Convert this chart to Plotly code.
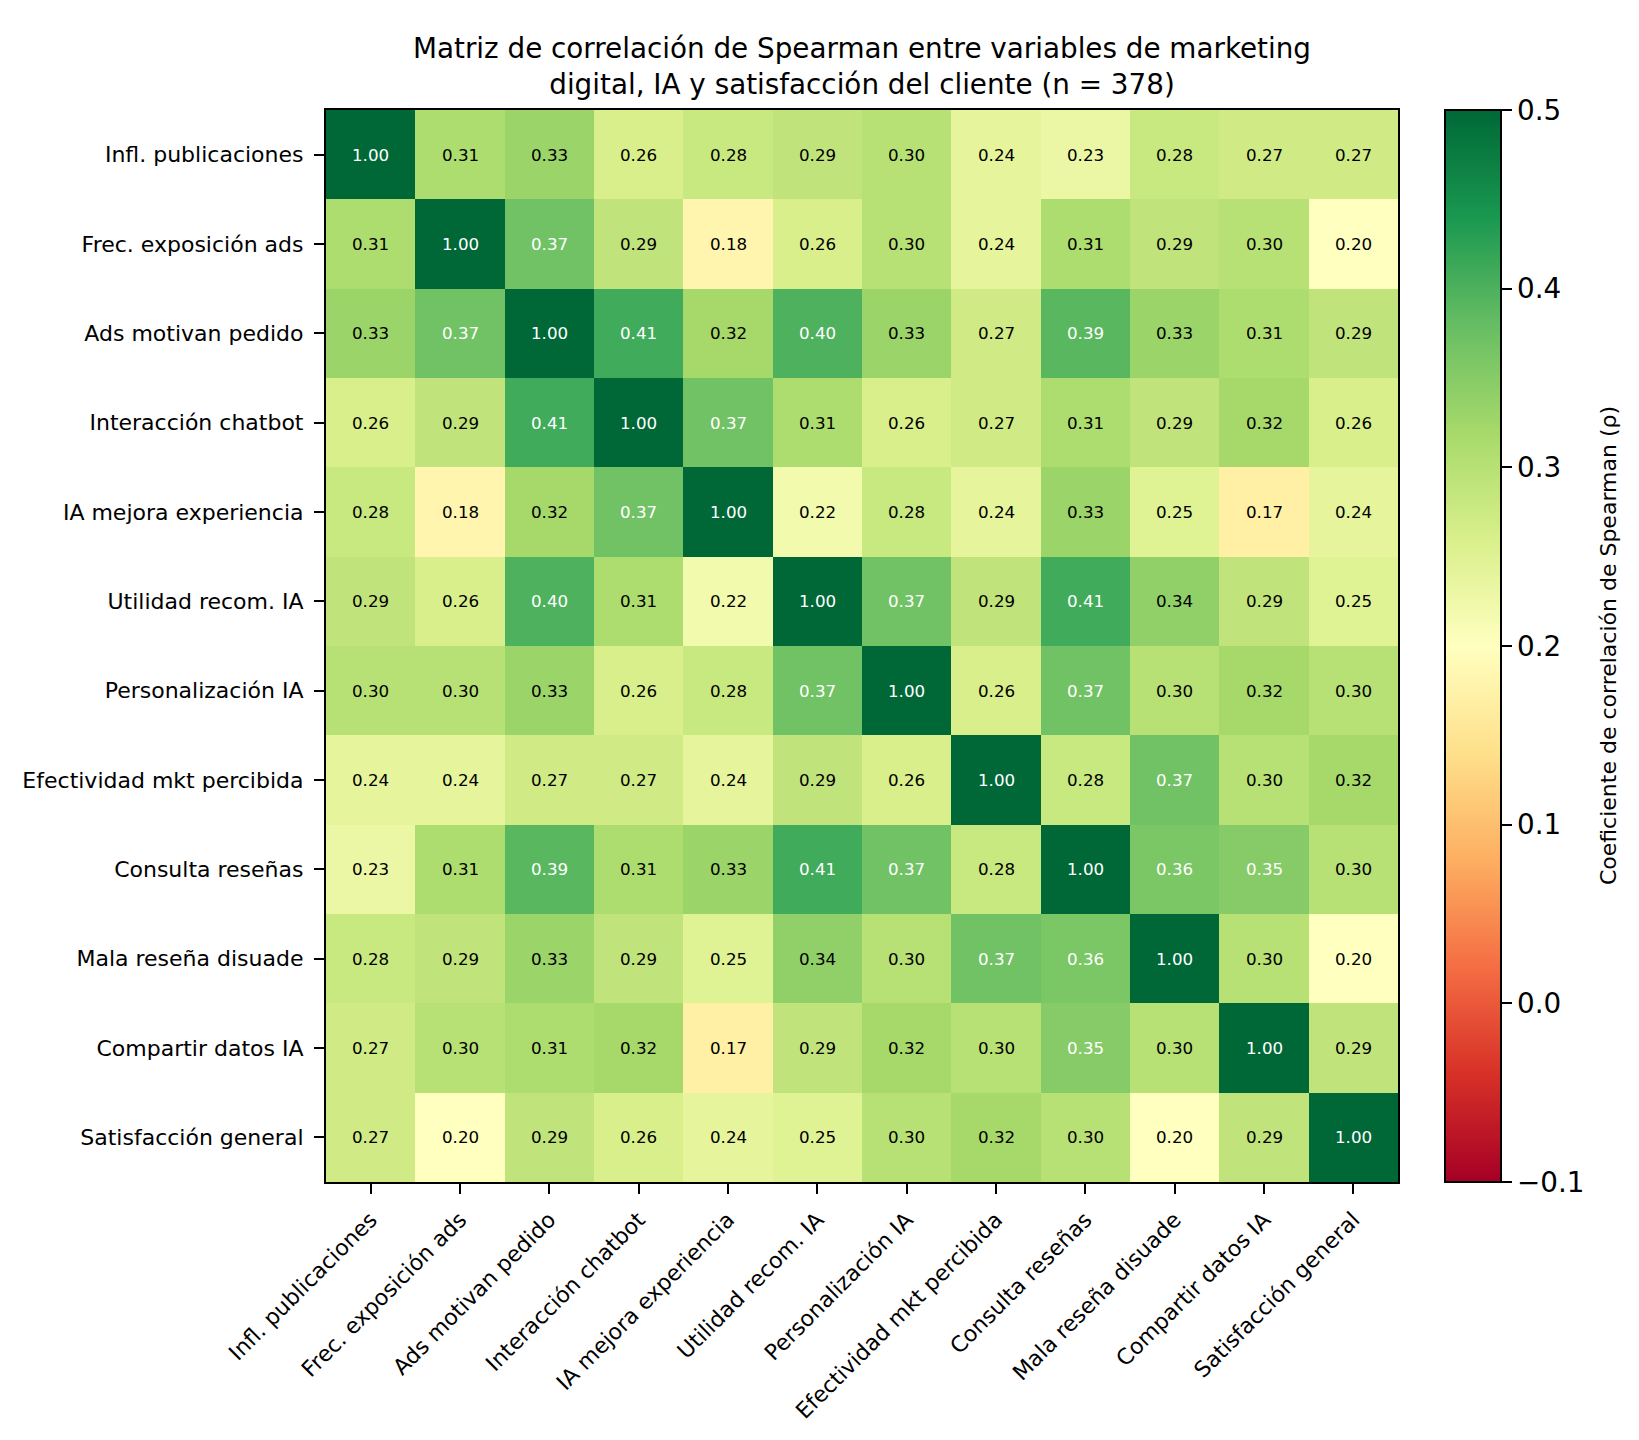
import plotly.graph_objects as go

labels = [
    "Infl. publicaciones",
    "Frec. exposición ads",
    "Ads motivan pedido",
    "Interacción chatbot",
    "IA mejora experiencia",
    "Utilidad recom. IA",
    "Personalización IA",
    "Efectividad mkt percibida",
    "Consulta reseñas",
    "Mala reseña disuade",
    "Compartir datos IA",
    "Satisfacción general",
]

rho = [
    [1.00, 0.31, 0.33, 0.26, 0.28, 0.29, 0.30, 0.24, 0.23, 0.28, 0.27, 0.27],
    [0.31, 1.00, 0.37, 0.29, 0.18, 0.26, 0.30, 0.24, 0.31, 0.29, 0.30, 0.20],
    [0.33, 0.37, 1.00, 0.41, 0.32, 0.40, 0.33, 0.27, 0.39, 0.33, 0.31, 0.29],
    [0.26, 0.29, 0.41, 1.00, 0.37, 0.31, 0.26, 0.27, 0.31, 0.29, 0.32, 0.26],
    [0.28, 0.18, 0.32, 0.37, 1.00, 0.22, 0.28, 0.24, 0.33, 0.25, 0.17, 0.24],
    [0.29, 0.26, 0.40, 0.31, 0.22, 1.00, 0.37, 0.29, 0.41, 0.34, 0.29, 0.25],
    [0.30, 0.30, 0.33, 0.26, 0.28, 0.37, 1.00, 0.26, 0.37, 0.30, 0.32, 0.30],
    [0.24, 0.24, 0.27, 0.27, 0.24, 0.29, 0.26, 1.00, 0.28, 0.37, 0.30, 0.32],
    [0.23, 0.31, 0.39, 0.31, 0.33, 0.41, 0.37, 0.28, 1.00, 0.36, 0.35, 0.30],
    [0.28, 0.29, 0.33, 0.29, 0.25, 0.34, 0.30, 0.37, 0.36, 1.00, 0.30, 0.20],
    [0.27, 0.30, 0.31, 0.32, 0.17, 0.29, 0.32, 0.30, 0.35, 0.30, 1.00, 0.29],
    [0.27, 0.20, 0.29, 0.26, 0.24, 0.25, 0.30, 0.32, 0.30, 0.20, 0.29, 1.00],
]

cbar_ticks = [-0.1, 0.0, 0.1, 0.2, 0.3, 0.4, 0.5]

# matplotlib RdYlGn
rdylgn = ["#a50026", "#d73027", "#f46d43", "#fdae61", "#fee08b", "#ffffbf",
          "#d9ef8b", "#a6d96a", "#66bd63", "#1a9850", "#006837"]
colorscale = [[i / (len(rdylgn) - 1), c] for i, c in enumerate(rdylgn)]

FONT = "DejaVu Sans"

fig = go.Figure(
    go.Heatmap(
        z=rho,
        x=labels,
        y=labels,
        zmin=-0.1,
        zmax=0.5,
        colorscale=colorscale,
        colorbar=dict(
            x=1.0438,
            xanchor="left",
            xpad=0,
            y=0.5,
            yanchor="middle",
            ypad=0,
            len=1,
            lenmode="fraction",
            thickness=56,
            thicknessmode="pixels",
            outlinecolor="black",
            outlinewidth=2,
            tickvals=cbar_ticks,
            ticktext=[f"{t:.1f}".replace("-", "\u2212") for t in cbar_ticks],
            ticks="outside",
            ticklen=10,
            tickwidth=2.2,
            tickcolor="black",
            tickfont=dict(family=FONT, size=27.8, color="black"),
        ),
    )
)

for i, row_name in enumerate(labels):
    for j, col_name in enumerate(labels):
        v = rho[i][j]
        fig.add_annotation(
            x=col_name,
            y=row_name,
            text=f"{v:.2f}",
            showarrow=False,
            font=dict(family=FONT, size=16.7, color="white" if v >= 0.35 else "black"),
        )

# colour bar label, placed like matplotlib's
fig.add_annotation(
    x=1.196,
    y=0.5,
    xref="paper",
    yref="paper",
    xanchor="center",
    yanchor="middle",
    text="Coeficiente de correlación de Spearman (ρ)",
    textangle=-90,
    showarrow=False,
    font=dict(family=FONT, size=22, color="black"),
)

fig.update_layout(
    width=1639,
    height=1440,
    margin=dict(l=318, r=249, t=102, b=266),
    paper_bgcolor="white",
    plot_bgcolor="white",
    font=dict(family=FONT, color="black"),
    title=dict(
        text="Matriz de correlación de Spearman entre variables de marketing<br>digital, IA y satisfacción del cliente (n = 378)",
        x=0.5,
        xref="paper",
        xanchor="center",
        y=1 - 50 / 1440,
        yref="container",
        yanchor="top",
        font=dict(family=FONT, size=27.8, color="black"),
    ),
    xaxis=dict(
        tickangle=-45,
        ticks="outside",
        ticklen=10,
        tickwidth=2.2,
        tickcolor="black",
        tickfont=dict(family=FONT, size=22, color="black"),
        showline=True,
        mirror=True,
        linecolor="black",
        linewidth=2.2,
        showgrid=False,
        zeroline=False,
        automargin=False,
        ticklabelstandoff=4,
    ),
    yaxis=dict(
        autorange="reversed",
        ticks="outside",
        ticklen=10,
        tickwidth=2.2,
        tickcolor="black",
        tickfont=dict(family=FONT, size=22, color="black"),
        showline=True,
        mirror=True,
        linecolor="black",
        linewidth=2.2,
        showgrid=False,
        zeroline=False,
        automargin=False,
        ticklabelstandoff=6,
    ),
)

fig.write_html("out.html")
